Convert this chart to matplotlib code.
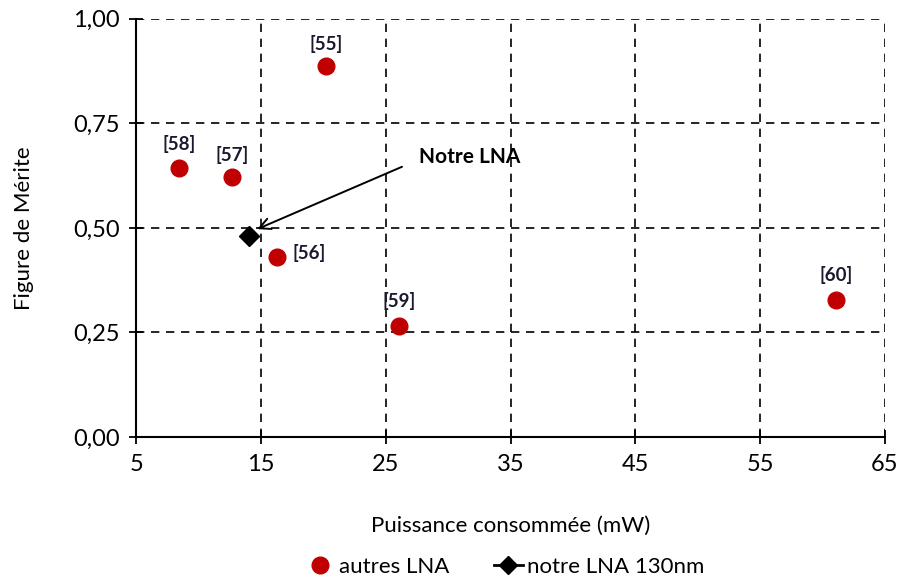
import matplotlib.pyplot as plt
from matplotlib.ticker import FuncFormatter
from matplotlib.lines import Line2D

plt.rcParams['font.family'] = ['Lato', 'DejaVu Sans']

# autres LNA
puissance = [20.2, 16.3, 12.7, 8.45, 26.1, 61.1]
fom = [0.887, 0.431, 0.622, 0.643, 0.266, 0.328]
refs = ["[55]", "[56]", "[57]", "[58]", "[59]", "[60]"]
# offsets of the labels in points (dx, dy)
label_off = [(0, 16), (23, 3), (0, 16), (0, 17), (0, 18), (0, 18)]

# notre LNA 130nm
notre_x = [14.06]
notre_y = [0.481]

fig = plt.figure(figsize=(9.02, 5.85), dpi=100)
ax = fig.add_axes([0.151, 0.253, 0.830, 0.715])

ax.plot(puissance, fom, linestyle="none", marker="o", markersize=12,
        color="#c00000", zorder=3)
ax.plot(notre_x, notre_y, linestyle="none", marker="D", markersize=10,
        color="black", zorder=3)

for x, y, r, (dx, dy) in zip(puissance, fom, refs, label_off):
    ax.annotate(r, (x, y), xytext=(dx, dy), textcoords="offset points",
                ha="center", va="center", fontsize=13.5, fontweight="bold",
                color="#1a1a2e")

ax.text(27.7, 0.67, "Notre LNA", ha="left", va="center", fontsize=15,
        fontweight="bold")
ax.annotate("", xy=(14.7, 0.497), xytext=(26.3, 0.646),
            arrowprops=dict(arrowstyle="->", color="black", lw=1.4,
                            shrinkA=0, shrinkB=0, mutation_scale=20))

ax.set_xlim(5, 65)
ax.set_ylim(0, 1)
ax.set_xticks(range(5, 66, 10))
ax.set_yticks([0, 0.25, 0.5, 0.75, 1.0])
ax.yaxis.set_major_formatter(FuncFormatter(lambda v, p: f"{v:.2f}".replace(".", ",")))
ax.grid(True, linestyle=(0, (5, 4)), color="black", lw=1.2)
ax.set_axisbelow(True)
for s in ["top", "right"]:
    ax.spines[s].set_visible(False)
for s in ["left", "bottom"]:
    ax.spines[s].set_linewidth(1.5)
ax.tick_params(direction="inout", length=10, width=1.3, labelsize=17, pad=7)

ax.set_xlabel("Puissance consommée (mW)", fontsize=16, labelpad=30)
ax.set_ylabel("Figure de Mérite", fontsize=16, labelpad=28)

handles = [
    Line2D([], [], linestyle="none", marker="o", markersize=12, color="#c00000"),
    Line2D([], [], linestyle="-", lw=2, marker="D", markersize=9, color="black"),
]
fig.legend(handles, ["autres LNA", "notre LNA 130nm"], loc="lower center",
           bbox_to_anchor=(0.56, -0.02), ncol=2, frameon=False, fontsize=16,
           handlelength=1.3, handletextpad=0.2, columnspacing=2.0)

fig.savefig("out.png", dpi=100)
